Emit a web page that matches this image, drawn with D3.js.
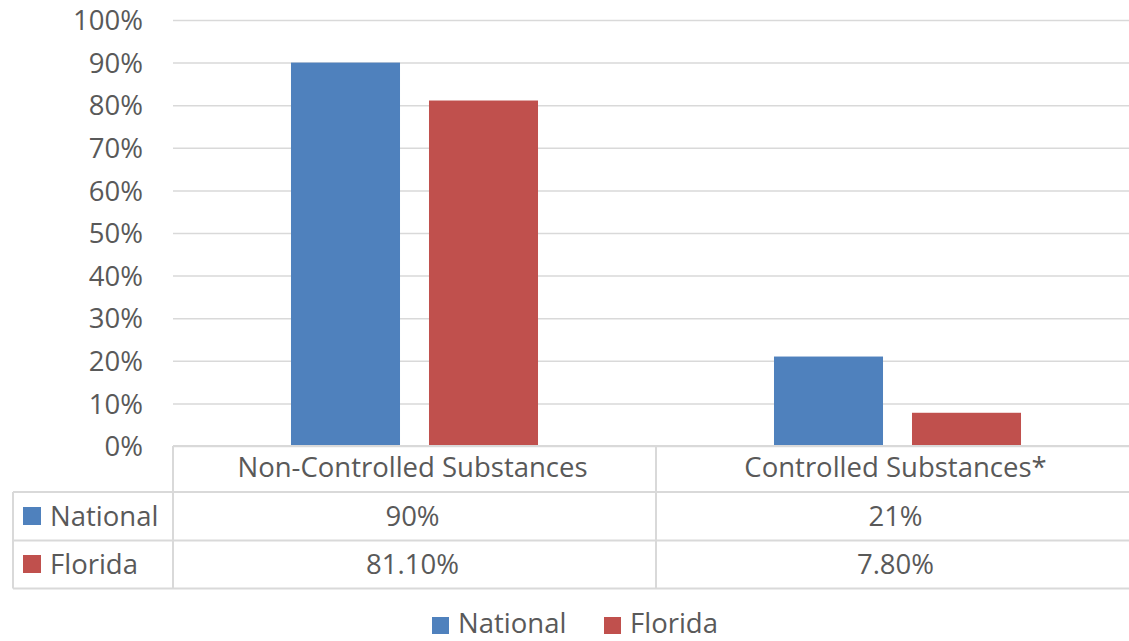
<!DOCTYPE html>
<html>
<head>
<meta charset="utf-8">
<script src="https://cdn.jsdelivr.net/npm/d3@7"></script>
<style>
  html, body { margin: 0; padding: 0; background: #fff; }
  svg { display: block; font-family: "Open Sans", sans-serif; }
</style>
</head>
<body>
<svg id="chart" width="1129" height="641"></svg>
<script>
// Chart data
const categories = ["Non-Controlled Substances", "Controlled Substances*"];
const seriesNames = ["National", "Florida"];
const nationalValues = [0.90, 0.21];
const floridaValues = [0.811, 0.078];
const nationalLabels = ["90%", "21%"];
const floridaLabels = ["81.10%", "7.80%"];
const yTicks = [0, 0.1, 0.2, 0.3, 0.4, 0.5, 0.6, 0.7, 0.8, 0.9, 1.0];
const seriesColors = ["#4f81bd", "#c0504d"];

const series = [
  { name: seriesNames[0], values: nationalValues, labels: nationalLabels, color: seriesColors[0] },
  { name: seriesNames[1], values: floridaValues, labels: floridaLabels, color: seriesColors[1] }
];

const svg = d3.select("#chart");
const textColor = "#595959";
const lineColor = "#d9d9d9";
const fontSize = 27.5;

// Plot geometry
const plotLeft = 173, plotRight = 1139, plotTop = 20, plotBottom = 446;
const tableLeft = 13;
const rowBottoms = [492, 540.5, 588.5];

const x = d3.scaleBand().domain(categories).range([plotLeft, plotRight]).padding(0);
const xs = d3.scaleBand().domain(seriesNames).range([0, x.bandwidth()])
  .paddingInner(0.21).paddingOuter(0.855);
const y = d3.scaleLinear().domain([0, 1]).range([plotBottom, plotTop]);

// Gridlines and y-axis labels
const yAxis = d3.axisLeft(y).tickValues(yTicks).tickFormat(d3.format(".0%"))
  .tickSize(-(1129 - plotLeft)).tickPadding(30);
const gy = svg.append("g").attr("transform", `translate(${plotLeft},0)`).call(yAxis);
gy.select(".domain").remove();
gy.selectAll(".tick line").attr("stroke", lineColor).attr("stroke-width", 1.5);
gy.selectAll(".tick text").attr("fill", textColor).attr("font-size", fontSize)
  .attr("font-family", "'Open Sans', sans-serif").attr("dy", "0.35em");

// Bars
const gBars = svg.append("g");
series.forEach(s => {
  gBars.selectAll(null).data(categories).enter().append("rect")
    .attr("x", (c) => x(c) + xs(s.name))
    .attr("width", xs.bandwidth())
    .attr("y", (c, i) => y(s.values[i]))
    .attr("height", (c, i) => y(0) - y(s.values[i]))
    .attr("fill", s.color);
});

// Data table
const gT = svg.append("g").attr("stroke", lineColor).attr("stroke-width", 2).attr("fill", "none");
gT.append("line").attr("x1", plotLeft).attr("x2", 1129).attr("y1", plotBottom).attr("y2", plotBottom);
rowBottoms.forEach(yy => {
  gT.append("line").attr("x1", tableLeft).attr("x2", 1129).attr("y1", yy).attr("y2", yy);
});
gT.append("line").attr("x1", tableLeft).attr("x2", tableLeft).attr("y1", rowBottoms[0]).attr("y2", rowBottoms[2]);
gT.append("line").attr("x1", plotLeft).attr("x2", plotLeft).attr("y1", plotBottom).attr("y2", rowBottoms[2]);
gT.append("line").attr("x1", x(categories[1])).attr("x2", x(categories[1])).attr("y1", plotBottom).attr("y2", rowBottoms[2]);

const gTxt = svg.append("g").attr("fill", textColor).attr("font-size", fontSize);
// Category header row
gTxt.selectAll(null).data(categories).enter().append("text")
  .attr("x", c => x(c) + x.bandwidth() / 2 - 2)
  .attr("y", 477)
  .attr("text-anchor", "middle")
  .text(c => c);

// Series rows
const rowBaselines = [526, 574];
series.forEach((s, r) => {
  gTxt.selectAll(null).data(categories).enter().append("text")
    .attr("x", c => x(c) + x.bandwidth() / 2 - 2)
    .attr("y", rowBaselines[r])
    .attr("text-anchor", "middle")
    .text((c, i) => s.labels[i]);
  svg.append("rect").attr("x", 23).attr("y", rowBaselines[r] - 19).attr("width", 18).attr("height", 18)
    .attr("fill", s.color);
  gTxt.append("text").attr("x", 50).attr("y", rowBaselines[r]).text(s.name);
});

// Legend
const legendItems = [
  { name: seriesNames[0], color: seriesColors[0], x: 432 },
  { name: seriesNames[1], color: seriesColors[1], x: 604 }
];
const gL = svg.append("g");
legendItems.forEach(it => {
  gL.append("rect").attr("x", it.x).attr("y", 617).attr("width", 17).attr("height", 17).attr("fill", it.color);
  gL.append("text").attr("x", it.x + 26).attr("y", 633).attr("fill", textColor)
    .attr("font-size", fontSize).text(it.name);
});
</script>
</body>
</html>
